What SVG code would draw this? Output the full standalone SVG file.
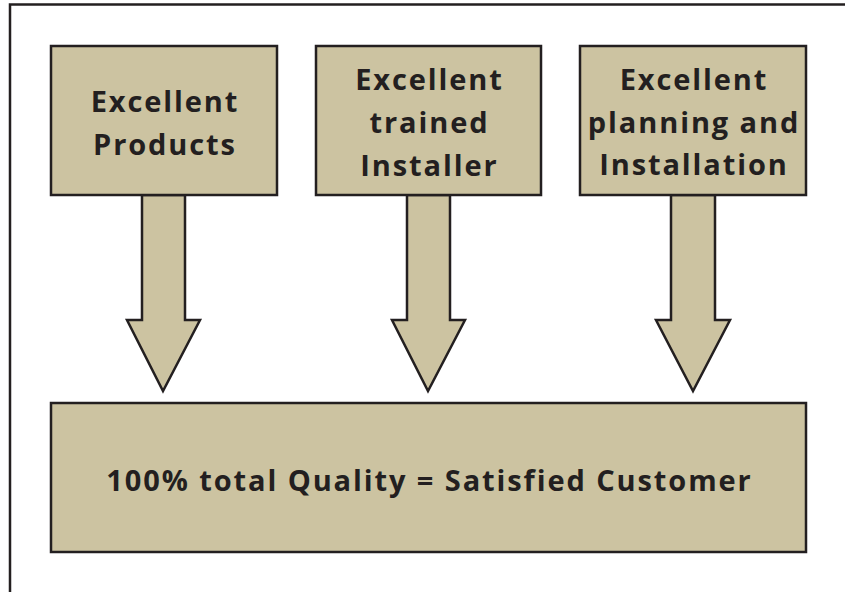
<svg xmlns="http://www.w3.org/2000/svg" width="845" height="592" viewBox="0 0 845 592">
<style>
.box{fill:#ccc3a1;stroke:#231f20;stroke-width:2.5}
.arr{fill:#ccc3a1;stroke:#231f20;stroke-width:2.5;stroke-linejoin:miter}
.t{font-family:"Open Sans","Liberation Sans",sans-serif;font-weight:bold;font-size:29px;letter-spacing:1.9px;fill:#231f20;text-anchor:middle}
</style>
<rect width="845" height="592" fill="#ffffff"/>
<path d="M10,592 V4.5 H845" fill="none" stroke="#231f20" stroke-width="2.5"/>
<g id="connectors">
<path class="arr" d="M142,195 H185 V320 H200 L163,391 L127,320 H142 Z"/>
<path class="arr" d="M407,195 H450 V320 H465 L428,391 L392,320 H407 Z"/>
<path class="arr" d="M671,195 H715 V320 H730 L693,391 L656,320 H671 Z"/>
</g>
<g id="n1">
<rect class="box" x="51" y="46" width="226" height="149"/>
<text class="t" x="165" y="112">Excellent</text>
<text class="t" x="165" y="155">Products</text>
</g>
<g id="n2">
<rect class="box" x="316" y="46" width="225" height="149"/>
<text class="t" x="429.5" y="90">Excellent</text>
<text class="t" x="429.5" y="133">trained</text>
<text class="t" x="429.5" y="176">Installer</text>
</g>
<g id="n3">
<rect class="box" x="580" y="46" width="226" height="149"/>
<text class="t" x="694" y="90">Excellent</text>
<text class="t" x="694" y="133">planning and</text>
<text class="t" x="694" y="175">Installation</text>
</g>
<g id="n4">
<rect class="box" x="51" y="403" width="755" height="149"/>
<text class="t" x="429.5" y="491">100% total Quality = Satisfied Customer</text>
</g>
</svg>
